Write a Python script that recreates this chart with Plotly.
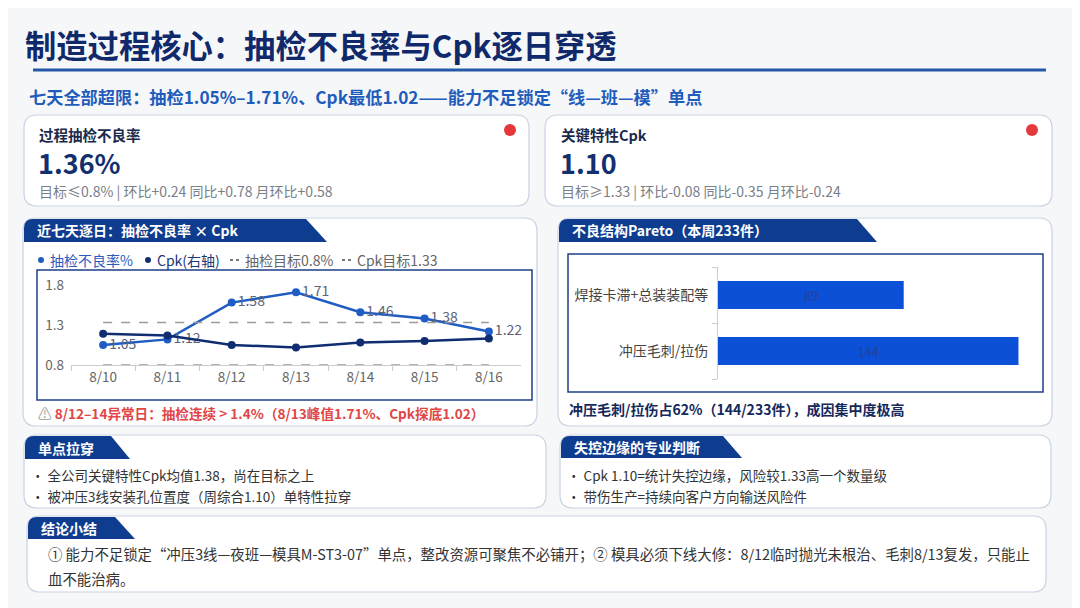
import plotly.graph_objects as go

W, H = 1080, 608
OFF = 8  # page body margin offset compensation
FONT = "Noto Sans CJK SC"

# ---------------- data ----------------
dates = ["8/10", "8/11", "8/12", "8/13", "8/14", "8/15", "8/16"]
defect_rate = [1.05, 1.12, 1.58, 1.71, 1.46, 1.38, 1.22]
cpk = [1.19, 1.17, 1.05, 1.02, 1.08, 1.10, 1.13]
defect_target = 0.8
cpk_target = 1.33
y_ticks = [0.8, 1.3, 1.8]

pareto_cats = ["冲压毛刺/拉伤", "焊接卡滞+总装装配等"]
pareto_vals = [144, 89]

# ---------------- helpers ----------------
def X(p):
    return (p - OFF) / W


def Y(p):
    return 1 - (p - OFF) / H


def rrect(x0, y0, x1, y1, r):
    return (f"M {X(x0+r)},{Y(y0)} L {X(x1-r)},{Y(y0)} Q {X(x1)},{Y(y0)} {X(x1)},{Y(y0+r)} "
            f"L {X(x1)},{Y(y1-r)} Q {X(x1)},{Y(y1)} {X(x1-r)},{Y(y1)} "
            f"L {X(x0+r)},{Y(y1)} Q {X(x0)},{Y(y1)} {X(x0)},{Y(y1-r)} "
            f"L {X(x0)},{Y(y0+r)} Q {X(x0)},{Y(y0)} {X(x0+r)},{Y(y0)} Z")


def band(x0, y0, xt, xb, y1, r=9):
    return (f"M {X(x0+r)},{Y(y0)} L {X(xt)},{Y(y0)} L {X(xb)},{Y(y1)} L {X(x0)},{Y(y1)} "
            f"L {X(x0)},{Y(y0+r)} Q {X(x0)},{Y(y0)} {X(x0+r)},{Y(y0)} Z")


shapes = []
annos = []

PANEL_LINE = "#c9d3e3"
BAND = "#0e3c8f"


def panel(x0, y0, x1, y1, r=13):
    shapes.append(dict(type="path", path=rrect(x0, y0, x1, y1, r), xref="paper", yref="paper",
                       fillcolor="white", line=dict(color=PANEL_LINE, width=1.2), layer="below"))


def title_band(x0, y0, xt, xb, y1, text, tx):
    shapes.append(dict(type="path", path=band(x0, y0, xt, xb, y1), xref="paper", yref="paper",
                       fillcolor=BAND, line=dict(width=0), layer="below"))
    annos.append(dict(x=X(tx), y=Y((y0 + y1) / 2), xref="paper", yref="paper", text=f"<b>{text}</b>",
                      showarrow=False, xanchor="left", yanchor="middle",
                      font=dict(family=FONT, size=14, color="white")))


def txt(x, y, text, size, color, bold=False):
    annos.append(dict(x=X(x), y=Y(y), xref="paper", yref="paper",
                      text=(f"<b>{text}</b>" if bold else text), showarrow=False,
                      xanchor="left", yanchor="middle",
                      font=dict(family=FONT, size=size, color=color)))


# ---------------- header ----------------
txt(23, 45, "制造过程核心：抽检不良率与Cpk逐日穿透", 31.3, "#10296a", True)
shapes.append(dict(type="line", xref="paper", yref="paper", x0=X(33), x1=X(1046), y0=Y(70), y1=Y(70),
                   line=dict(color="#2358a8", width=3)))
txt(27, 97, "七天全部超限：抽检1.05%–1.71%、Cpk最低1.02——能力不足锁定“线—班—模”单点", 17.2, "#1f5cbc", True)

# ---------------- KPI cards ----------------
panel(24, 115, 529, 206)
txt(37, 134, "过程抽检不良率", 14.5, "#1b2a4c", True)
txt(36, 163, "1.36%", 27, "#13306e", True)
txt(37, 191, "目标≤0.8% | 环比+0.24 同比+0.78 月环比+0.58", 14, "#7a7f88")
shapes.append(dict(type="circle", xref="paper", yref="paper", x0=X(504), x1=X(516), y0=Y(124), y1=Y(136),
                   fillcolor="#e5383b", line=dict(width=0)))

panel(545, 115, 1052, 206)
txt(559, 134, "关键特性Cpk", 14.5, "#1b2a4c", True)
txt(558, 163, "1.10", 27, "#13306e", True)
txt(559, 191, "目标≥1.33 | 环比-0.08 同比-0.35 月环比-0.24", 14, "#7a7f88")
shapes.append(dict(type="circle", xref="paper", yref="paper", x0=X(1026), x1=X(1038), y0=Y(124), y1=Y(136),
                   fillcolor="#e5383b", line=dict(width=0)))

# ---------------- line chart panel ----------------
panel(23, 218, 537, 426)
title_band(24, 219, 306, 327, 242, "近七天逐日：抽检不良率 × Cpk", 35)
shapes.append(dict(type="rect", xref="paper", yref="paper", x0=X(37), x1=X(532), y0=Y(270), y1=Y(400),
                   line=dict(color="#1d3f88", width=1.5), fillcolor="rgba(0,0,0,0)"))

# custom legend
LEG_Y = 260
shapes.append(dict(type="circle", xref="paper", yref="paper", x0=X(38), x1=X(44), y0=Y(LEG_Y - 3), y1=Y(LEG_Y + 3),
                   fillcolor="#1f5cc4", line=dict(width=0)))
txt(48, LEG_Y, "抽检不良率%", 14, "#2a5bbf")
shapes.append(dict(type="circle", xref="paper", yref="paper", x0=X(145), x1=X(151), y0=Y(LEG_Y - 3), y1=Y(LEG_Y + 3),
                   fillcolor="#0f2d70", line=dict(width=0)))
txt(155, LEG_Y, "Cpk(右轴)", 14, "#1b3575")
shapes.append(dict(type="line", xref="paper", yref="paper", x0=X(230), x1=X(239), y0=Y(LEG_Y), y1=Y(LEG_Y),
                   line=dict(color="#777", width=2, dash="dot")))
txt(243, LEG_Y, "抽检目标0.8%", 14, "#666")
shapes.append(dict(type="line", xref="paper", yref="paper", x0=X(342), x1=X(351), y0=Y(LEG_Y), y1=Y(LEG_Y),
                   line=dict(color="#777", width=2, dash="dot")))
txt(355, LEG_Y, "Cpk目标1.33", 14, "#666")

annos.append(dict(x=X(36), y=Y(413), xref="paper", yref="paper", showarrow=False, xanchor="left", yanchor="middle",
                  text="<span style='color:#9a9a9a'>⚠</span> <b>8/12–14异常日：抽检连续 &gt; 1.4%（8/13峰值1.71%、Cpk探底1.02）</b>",
                  font=dict(family=FONT, size=13.6, color="#e04646")))

# ---------------- pareto panel ----------------
panel(558, 218, 1052, 426)
title_band(559, 219, 857, 877, 242, "不良结构Pareto（本周233件）", 570)
shapes.append(dict(type="rect", xref="paper", yref="paper", x0=X(568), x1=X(1043), y0=Y(254), y1=Y(392),
                   line=dict(color="#1d3f88", width=1.5), fillcolor="rgba(0,0,0,0)"))
txt(567, 409, "冲压毛刺/拉伤占62%（144/233件），成因集中度极高", 14, "#14285a", True)

# ---------------- bottom panels ----------------
panel(24, 435, 546, 508)
title_band(25, 436, 111, 130, 459, "单点拉穿", 36)
txt(29, 475, "· 全公司关键特性Cpk均值1.38，尚在目标之上", 13.5, "#333")
txt(29, 496, "· 被冲压3线安装孔位置度（周综合1.10）单特性拉穿", 13.5, "#333")

panel(560, 435, 1051, 508)
title_band(561, 436, 723, 742, 458, "失控边缘的专业判断", 572)
txt(565, 475, "· Cpk 1.10=统计失控边缘，风险较1.33高一个数量级", 13.5, "#333")
txt(565, 496, "· 带伤生产=持续向客户方向输送风险件", 13.5, "#333")

panel(27, 516, 1046, 592)
title_band(28, 517, 115, 135, 539, "结论小结", 39)
txt(46, 553, "① 能力不足锁定“冲压3线—夜班—模具M-ST3-07”单点，整改资源可聚焦不必铺开；② 模具必须下线大修：8/12临时抛光未根治、毛刺8/13复发，只能止", 14.4, "#333")
txt(46, 578, "血不能治病。", 14.4, "#333")

# ---------------- traces ----------------
fig = go.Figure()
fig.add_trace(go.Scatter(x=dates, y=[defect_target] * len(dates), mode="lines", xaxis="x", yaxis="y",
                         line=dict(color="#9a9a9a", width=1.5, dash="dash"), hoverinfo="skip", showlegend=False))
fig.add_trace(go.Scatter(x=dates, y=[cpk_target] * len(dates), mode="lines", xaxis="x", yaxis="y2",
                         line=dict(color="#9a9a9a", width=1.5, dash="dash"), hoverinfo="skip", showlegend=False))
fig.add_trace(go.Scatter(x=dates, y=cpk, mode="lines+markers", xaxis="x", yaxis="y2", name="Cpk(右轴)",
                         line=dict(color="#0f2d70", width=2.5), marker=dict(size=8, color="#0f2d70"),
                         cliponaxis=False, showlegend=False))
fig.add_trace(go.Scatter(x=dates, y=defect_rate, mode="lines+markers+text", xaxis="x", yaxis="y", name="抽检不良率%",
                         line=dict(color="#1f5cc4", width=2.5), marker=dict(size=8, color="#1f5cc4"),
                         text=[f"{v:.2f}" for v in defect_rate], textposition="middle right",
                         textfont=dict(family=FONT, size=14, color="#5b6479"),
                         cliponaxis=False, showlegend=False))

fig.add_trace(go.Bar(y=pareto_cats, x=pareto_vals, orientation="h", xaxis="x3", yaxis="y3",
                     marker=dict(color="#0b50d6", line=dict(width=0)), width=0.5,
                     text=[str(v) for v in pareto_vals], textposition="inside", insidetextanchor="middle",
                     textfont=dict(family=FONT, size=13, color="#27409a"), showlegend=False))

axis_font = dict(family=FONT, size=13.5, color="#666")
fig.update_layout(
    template="none",
    width=W, height=H, autosize=False,
    margin=dict(l=0, r=0, t=0, b=0, pad=0, autoexpand=False),
    paper_bgcolor="#f6f7f9", plot_bgcolor="rgba(0,0,0,0)",
    font=dict(family=FONT),
    showlegend=False,
    shapes=shapes, annotations=annos,
    xaxis=dict(domain=[X(71), X(521)], anchor="y", type="category", range=[-0.5, 6.5], automargin=False,
               showline=True, linecolor="#cccccc", linewidth=1, ticks="outside", tickson="boundaries",
               ticklen=5, tickcolor="#cccccc", showgrid=False, zeroline=False, tickfont=axis_font, fixedrange=True),
    yaxis=dict(domain=[Y(365), Y(285)], anchor="x", range=[0.8, 1.8], tickvals=y_ticks, automargin=False,
               ticktext=[f"{v:.1f}" for v in y_ticks], showgrid=False, zeroline=False, showline=False,
               ticks="", tickfont=axis_font, ticklabelstandoff=6, fixedrange=True),
    yaxis2=dict(overlaying="y", side="right", anchor="x", range=[0.8, 1.8], visible=False, fixedrange=True,
                automargin=False),
    xaxis3=dict(domain=[X(718), X(1031)], anchor="y3", range=[0, 150], visible=False, fixedrange=True,
                automargin=False),
    yaxis3=dict(domain=[Y(379), Y(267)], anchor="x3", type="category", categoryorder="array",
                categoryarray=pareto_cats, range=[-0.5, 1.5], automargin=False,
                showline=True, linecolor="#cccccc", linewidth=1, ticks="outside", tickson="boundaries",
                ticklen=5, tickcolor="#cccccc", showgrid=False, zeroline=False,
                tickfont=dict(family=FONT, size=14, color="#444"), ticklabelstandoff=6, fixedrange=True),
)

fig.write_html("out.html", config={"displayModeBar": False})
